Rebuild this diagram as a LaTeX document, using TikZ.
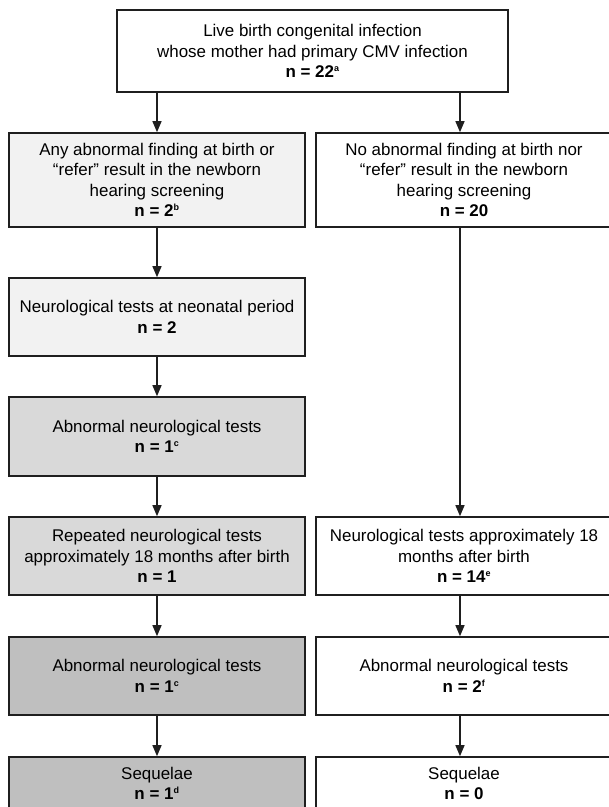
\documentclass[tikz,border=0pt]{standalone}
\usepackage{fontspec}
\setmainfont{Liberation Sans}
\usetikzlibrary{arrows.meta}
\definecolor{fillone}{gray}{0.95}
\definecolor{filltwo}{gray}{0.85}
\definecolor{fillthree}{gray}{0.75}
\definecolor{edge}{gray}{0.12}
\newcommand{\fnm}[1]{\textsuperscript{\fontsize{9}{9}\selectfont #1}}

\begin{document}
\begin{tikzpicture}[x=1bp,y=-1bp,
  box/.style={draw=edge,line width=1.6bp,align=center,inner sep=0pt,
    font=\fontsize{17}{20.5}\selectfont},
  colbox/.style={box,minimum width=296bp},
  arr/.style={->,draw=edge,line width=1.3bp},
  >={Triangle[width=9bp,length=11bp]}]
% frame
\useasboundingbox (0,0) rectangle (609,807);
\fill[white] (0,0) rectangle (609,807);
\clip (0,0) rectangle (609,807);
% top
\node[box,minimum width=391bp,minimum height=82bp] (top) at (312.5,51)
  {Live birth congenital infection\\whose mother had primary CMV infection\\\textbf{n = 22\fnm{a}}};
% left column
\node[colbox,fill=fillone,minimum height=94bp] (any) at (157,180)
  {Any abnormal finding at birth or\\``refer'' result in the newborn\\hearing screening\\\textbf{n = 2\fnm{b}}};
\node[colbox,fill=fillone,minimum height=78bp] (neo) at (157,317)
  {Neurological tests at neonatal period\\\textbf{n = 2}};
\node[colbox,fill=filltwo,minimum height=79bp] (abnone) at (157,436.5)
  {Abnormal neurological tests\\\textbf{n = 1\fnm{c}}};
\node[colbox,fill=filltwo,minimum height=78bp] (rep) at (157,556)
  {Repeated neurological tests\\approximately 18 months after birth\\\textbf{n = 1}};
\node[colbox,fill=fillthree,minimum height=78bp] (abntwo) at (157,676)
  {Abnormal neurological tests\\\textbf{n = 1\fnm{c}}};
\node[colbox,fill=fillthree,minimum height=53bp] (seqone) at (157,783.5)
  {Sequelae\\\textbf{n = 1\fnm{d}}};
% right column
\node[colbox,minimum height=94bp] (none) at (464,180)
  {No abnormal finding at birth nor\\``refer'' result in the newborn\\hearing screening\\\textbf{n = 20}};
\node[colbox,minimum height=78bp] (neu) at (464,556)
  {Neurological tests approximately 18\\months after birth\\\textbf{n = 14\fnm{e}}};
\node[colbox,minimum height=78bp] (abnthree) at (464,676)
  {Abnormal neurological tests\\\textbf{n = 2\fnm{f}}};
\node[colbox,minimum height=53bp] (seqtwo) at (464,783.5)
  {Sequelae\\\textbf{n = 0}};
\coordinate (rx) at (460,0);
% arrows
\draw[arr] (top.south -| any) -- (any);
\draw[arr] (any) -- (neo);
\draw[arr] (neo) -- (abnone);
\draw[arr] (abnone) -- (rep);
\draw[arr] (rep) -- (abntwo);
\draw[arr] (abntwo) -- (seqone);
\draw[arr] (top.south -| rx) -- (none.north -| rx);
\draw[arr] (none.south -| rx) -- (neu.north -| rx);
\draw[arr] (neu.south -| rx) -- (abnthree.north -| rx);
\draw[arr] (abnthree.south -| rx) -- (seqtwo.north -| rx);
\end{tikzpicture}
\end{document}
